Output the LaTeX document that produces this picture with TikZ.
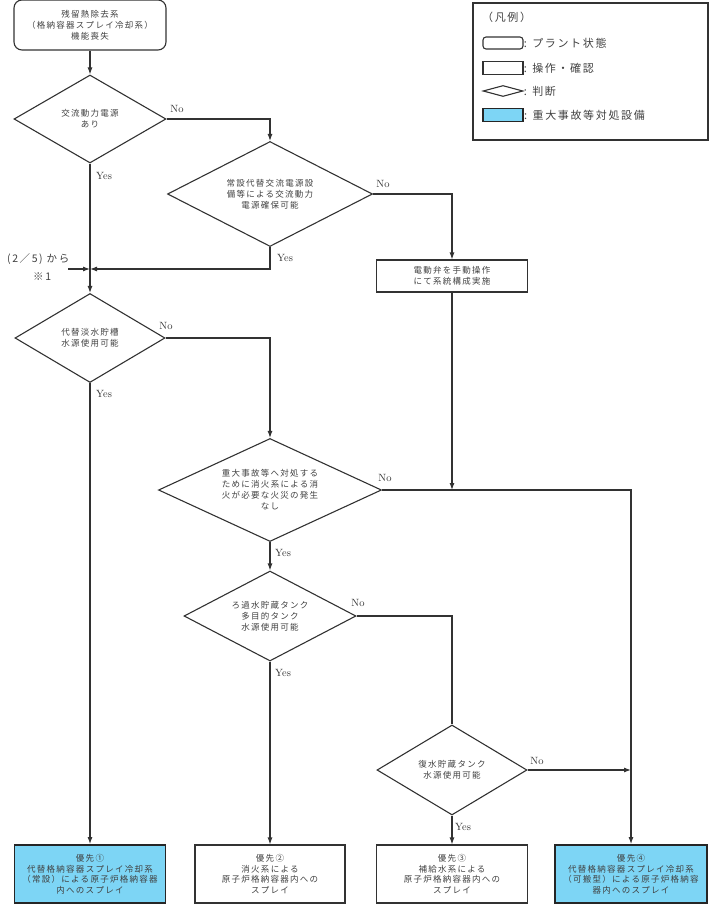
\documentclass[tikz,border=0pt]{standalone}
\usepackage{fontspec}
\usetikzlibrary{arrows.meta}
\usetikzlibrary{shapes.geometric}
\newfontfamily\jpfont[LetterSpace=15]{Noto Sans CJK JP}
\definecolor{sacyan}{RGB}{125,213,245}
\definecolor{linegray}{RGB}{50,50,50}

\tikzset{
	conn/.style={draw=linegray, line width=1.1pt},
	flow/.style={conn, -{Latex[length=7pt,width=5pt]}},
	jptext/.style={font=\jpfont\fontsize{8.5}{11}\selectfont, text=black!75, align=center},
	decide/.style={diamond, conn, jptext, inner sep=0pt},
	state/.style={rectangle, rounded corners=8pt, conn, jptext, inner sep=0pt},
	action/.style={rectangle, conn, jptext, inner sep=0pt,
		font=\jpfont\fontsize{8.5}{10.5}\selectfont},
	priority/.style={action, fill=sacyan, line width=1.8pt, draw=black!85},
	yesno/.style={font=\fontsize{10.5}{12}\selectfont, text=black!80, inner sep=0pt},
	legtext/.style={font=\jpfont\fontsize{11}{13}\selectfont, text=black!75, inner sep=0pt, anchor=west}
}

\begin{document}
\begin{tikzpicture}[x=1pt,y=-1pt]
		\useasboundingbox (0,0) rectangle (709,904);
		%% The Nodes
		\node[state, minimum width=152pt, minimum height=50pt] (start) at (90,25)
			{残留熱除去系\\（格納容器スプレイ冷却系）\\機能喪失};
		\node[decide, minimum width=152pt, minimum height=88pt, shape aspect=1.73] (d1) at (90,119)
			{交流動力電源\\あり};
		\node[decide, minimum width=205pt, minimum height=105pt, shape aspect=1.95] (d2) at (270,194)
			{常設代替交流電源設\\備等による交流動力\\電源確保可能};
		\node[action, minimum width=151pt, minimum height=32pt] (op) at (452,276)
			{電動弁を手動操作\\にて系統構成実施};
		\node[decide, minimum width=150pt, minimum height=89pt, shape aspect=1.69] (d3) at (90,338)
			{代替淡水貯槽\\水源使用可能};
		\node[decide, minimum width=223pt, minimum height=103pt, shape aspect=2.17] (d4) at (270,490)
			{重大事故等へ対処する\\ために消火系による消\\火が必要な火災の発生\\なし};
		\node[decide, minimum width=172pt, minimum height=90pt, shape aspect=1.91] (d5) at (270,616)
			{ろ過水貯蔵タンク\\多目的タンク\\水源使用可能};
		\node[decide, minimum width=150pt, minimum height=90pt, shape aspect=1.67] (d6) at (452,770)
			{復水貯蔵タンク\\水源使用可能};
		\node[priority, minimum width=151pt, minimum height=58pt] (p1) at (90,874)
			{優先①\\代替格納容器スプレイ冷却系\\（常設）による原子炉格納容器\\内へのスプレイ};
		\node[action, minimum width=150pt, minimum height=58pt] (p2) at (270,874)
			{優先②\\消火系による\\原子炉格納容器内への\\スプレイ};
		\node[action, minimum width=151pt, minimum height=58pt] (p3) at (452,874)
			{優先③\\補給水系による\\原子炉格納容器内への\\スプレイ};
		\node[priority, minimum width=152pt, minimum height=58pt] (p4) at (631,874)
			{優先④\\代替格納容器スプレイ冷却系\\（可搬型）による原子炉格納容\\器内へのスプレイ};
		\coordinate (jn) at (90,269);
		\coordinate (ext) at (68,269);
		\coordinate (m1) at (452,490);
		\coordinate (m2) at (631,770);
		\node[legtext, font=\jpfont\fontsize{10.5}{12}\selectfont] (from) at (7,259) {(2／5) から};
		\node[legtext, font=\jpfont\fontsize{10.5}{12}\selectfont] (note) at (33,277) {※1};
		%% The Connectors
		\draw[flow] (start) -- (d1);
		\draw[flow] (d1.east) -| (d2.north);
		\draw[conn] (d1.south) -- (jn);
		\draw[flow] (d2.south) |- (jn);
		\draw[flow] (ext) -- (jn);
		\draw[flow] (jn) -- (d3.north);
		\draw[flow] (d2.east) -| (op.north);
		\draw[flow] (op.south) -- (m1);
		\draw[flow] (d3.east) -| (d4.north);
		\draw[flow] (d3.south) -- (p1.north);
		\draw[flow] (d4.east) -| (p4.north);
		\draw[flow] (d4.south) -- (d5.north);
		\draw[conn] (d5.east) -| (d6.north);
		\draw[flow] (d5.south) -- (p2.north);
		\draw[flow] (d6.east) -- (m2);
		\draw[flow] (d6.south) -- (p3.north);
		% Yes / No
		\node[yesno] (n1) at (177,109) {No};
		\node[yesno] (y1) at (104,176) {Yes};
		\node[yesno] (n2) at (383,184) {No};
		\node[yesno] (y2) at (285,258) {Yes};
		\node[yesno] (n3) at (166,326) {No};
		\node[yesno] (y3) at (104,394) {Yes};
		\node[yesno] (n4) at (385,478) {No};
		\node[yesno] (y4) at (283,553) {Yes};
		\node[yesno] (n5) at (358,603) {No};
		\node[yesno] (y5) at (283,673) {Yes};
		\node[yesno] (n6) at (537,761) {No};
		\node[yesno] (y6) at (463,827) {Yes};
		%% The Legend
		\node[draw=linegray, line width=1.1pt, minimum width=235pt, minimum height=137pt] (legend) at (590.5,71.5) {};
		\node[legtext] (legtitle) at (482,17) {（凡例）};
		\node[conn, rounded corners=3pt, minimum width=40pt, minimum height=12pt, inner sep=0pt] (lg1) at (503,43) {};
		\node[conn, minimum width=40pt, minimum height=13pt, inner sep=0pt] (lg2) at (503,68) {};
		\node[conn, diamond, minimum width=40pt, minimum height=11pt, inner sep=0pt, shape aspect=3.6] (lg3) at (503,91) {};
		\node[conn, fill=sacyan, line width=1.8pt, draw=black!85, minimum width=40pt, minimum height=13pt, inner sep=0pt] (lg4) at (503,115) {};
		\node[legtext] (lt1) at (lg1.east) {: プラント状態};
		\node[legtext] (lt2) at (lg2.east) {: 操作・確認};
		\node[legtext] (lt3) at (lg3.east) {: 判断};
		\node[legtext] (lt4) at (lg4.east) {: 重大事故等対処設備};
	\end{tikzpicture}
\end{document}
